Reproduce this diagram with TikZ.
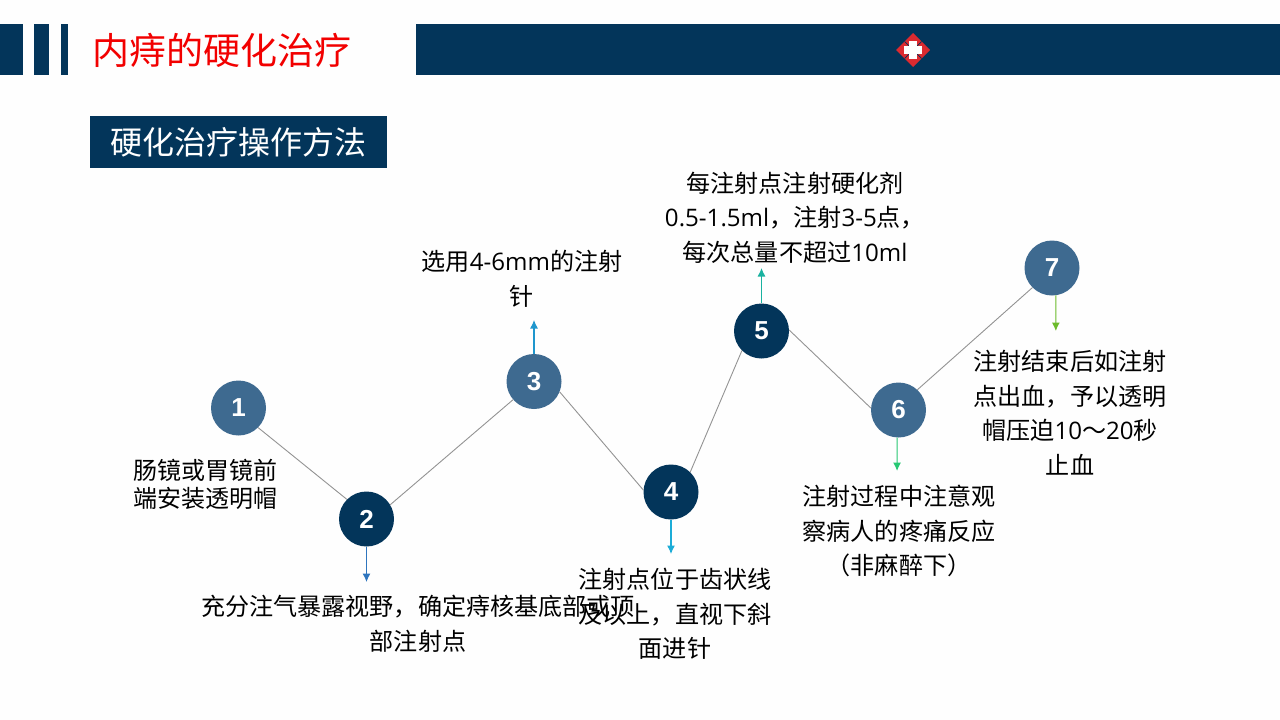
\documentclass[tikz,border=0pt]{standalone}
\usepackage{fontspec}
\usetikzlibrary{arrows.meta}
\setmainfont{Noto Sans CJK SC}
\newfontfamily\numfont{Liberation Sans}
\newfontfamily\latn{Open Sans}
\definecolor{navy}{HTML}{03355A}
\definecolor{steel}{HTML}{3E6A90}
\definecolor{badge}{HTML}{DC2A30}
\definecolor{tip two}{HTML}{2E75BE}
\definecolor{tip three}{HTML}{1E96CD}
\definecolor{tip four}{HTML}{1CACD7}
\definecolor{tip five}{HTML}{1AB2A0}
\definecolor{tip six}{HTML}{27C873}
\definecolor{tip seven}{HTML}{6CBB2B}
\tikzstyle{bar}=[fill=navy,draw=none]
\tikzstyle{index dark}=[inner sep=0pt, minimum size=55pt, circle, fill=navy, text=white, font=\numfont\bfseries\fontsize{26}{26}\selectfont]
\tikzstyle{index light}=[index dark, fill=steel]
\tikzstyle{note}=[inner sep=0pt, align=center, text=black, font=\fontsize{24.1}{34.5}\selectfont]
\tikzstyle{link}=[draw=gray!85, line width=.9pt]
\tikzstyle{pointer}=[-{Latex[length=8.5pt,width=8pt]}, line width=1.1pt]

\begin{document}
\begin{tikzpicture}[x=1pt,y=-1pt]

    % Page
    \fill[white!99.5!black] (0,0) rectangle (1280,720);
    \useasboundingbox (0,0) rectangle (1280,720);

    % Header
    \fill[bar] (0,24) rectangle (23,75);
    \fill[bar] (34,24) rectangle (49,75);
    \fill[bar] (61,24) rectangle (68,75);
    \fill[bar] (416,24) rectangle (1280,75);
    \draw (222,50) node[inner sep=0pt, text=red!95!black, font=\fontsize{37}{37}\selectfont] (title) {内痔的硬化治疗};
    \draw (238.5,142) node[bar, text=white, minimum width=297pt, minimum height=52pt, inner sep=0pt, font=\fontsize{32}{32}\selectfont] (subtitle) {硬化治疗操作方法};

    % Badge
    \fill[badge] (913,33) -- (930,50) -- (913,67) -- (896,50) -- cycle;
    \draw[navy, line width=.7pt] (904.5,41.5) -- (921.5,58.5) (921.5,41.5) -- (904.5,58.5);
    \fill[white] (909,41) rectangle (917,59);
    \fill[white] (904,46) rectangle (922,54);

    % Indices
    \draw (238.5,408) node[index light] (one) {1};
    \draw (366.5,519) node[index dark] (two) {2};
    \draw (534,381.5) node[index light] (three) {3};
    \draw (671,492) node[index dark] (four) {4};
    \draw (761.5,331) node[index dark] (five) {5};
    \draw (898.5,410) node[index light] (six) {6};
    \draw (1052,268) node[index light] (seven) {7};

    % Zigzag
    \draw[link] (one.-45) -- (two.135);
    \draw[link] (two.31) -- (three.221);
    \draw[link] (three.-22) -- (four.176);
    \draw[link] (four.46) -- (five.225);
    \draw[link] (five.2) -- (six.176);
    \draw[link] (six.47) -- (seven.225);

    % Arrow ends
    \coordinate (end two) at (366.5,582);
    \coordinate (end three) at (534,320);
    \coordinate (end four) at (671,554);
    \coordinate (end five) at (761.5,268);
    \coordinate (end six) at (897.06,471);
    \coordinate (end seven) at (1055.83,331);

    % Arrows
    \draw[pointer, tip two] (two.south) -- (end two);
    \draw[pointer, tip three] (three.north) -- (end three);
    \draw[pointer, tip four] (four.south) -- (end four);
    \draw[pointer, tip five] (five.north) -- (end five);
    \draw[pointer, tip six] (six.-93) -- (end six);
    \draw[pointer, tip seven] (seven.-82) -- (end seven);

    % Notes
    \draw (205,484.5) node[note, font=\fontsize{24}{28.5}\selectfont] (note one) {肠镜或胃镜前\\端安装透明帽};
    \draw (418,624) node[note] (note two) {充分注气暴露视野，确定痔核基底部或顶\\部注射点};
    \draw (522,279) node[note] (note three) {选用{\latn 4-6mm}的注射\\针};
    \draw (675,614) node[note] (note four) {注射点位于齿状线\\及以上，直视下斜\\面进针};
    \draw (795,217.5) node[note] (note five) {每注射点注射硬化剂\\{\latn 0.5-1.5ml}，注射{\latn 3-5}点，\hspace*{10pt}\\每次总量不超过{\latn 10ml}};
    \draw (899,531) node[note] (note six) {注射过程中注意观\\察病人的疼痛反应\\（非麻醉下）};
    \draw (1070,412.5) node[note] (note seven) {注射结束后如注射\\点出血，予以透明\\帽压迫{\latn 10}～{\latn 20}秒\\止血};

\end{tikzpicture}
\end{document}
